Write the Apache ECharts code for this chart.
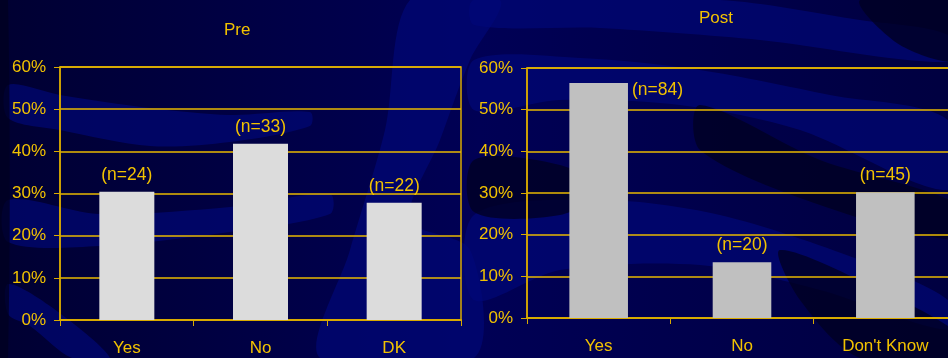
<!DOCTYPE html>
<html>
<head>
<meta charset="utf-8">
<script src="https://cdn.jsdelivr.net/npm/echarts@6/dist/echarts.min.js"></script>
<style>
  html, body { margin: 0; padding: 0; background: #000040; overflow: hidden; }
  /* the right chart runs past the window edge, so the canvas is a bit wider */
  #main { width: 960px; height: 358px; }
</style>
</head>
<body>
<div id="main"></div>
<script>
// data
var preCategories = ['Yes', 'No', 'DK'];
var prePercent = [30.4, 41.8, 27.8];
var preCounts = [24, 33, 22];

var postCategories = ['Yes', 'No', "Don't Know"];
var postPercent = [56.4, 13.4, 30.2];
var postCounts = [84, 20, 45];

var yTicks = [0, 10, 20, 30, 40, 50, 60];

var font = 'Liberation Sans, Arial, sans-serif';
var yellow = '#f2c200';
var axisColor = '#d8aa00';
var gridColor = '#e8b800';

var myChart = echarts.init(document.getElementById('main'));

function valueAxis(gridIndex) {
  return {
    type: 'value',
    gridIndex: gridIndex,
    min: yTicks[0],
    max: yTicks[yTicks.length - 1],
    interval: 10,
    axisLine: { show: true, lineStyle: { color: axisColor, width: 1.5 } },
    axisTick: { show: true, length: 6, lineStyle: { color: axisColor } },
    splitLine: { show: true, lineStyle: { color: gridColor, width: 1.5, opacity: 1 } },
    axisLabel: {
      color: yellow, fontFamily: font, fontSize: 17, margin: 14,
      formatter: function (v) { return v + '%'; }
    }
  };
}

function categoryAxis(gridIndex, data) {
  return {
    type: 'category',
    gridIndex: gridIndex,
    data: data,
    axisLine: { show: true, lineStyle: { color: axisColor, width: 2 } },
    axisTick: { show: true, length: 6, interval: 0, lineStyle: { color: axisColor } },
    splitLine: { show: false },
    axisLabel: { color: yellow, fontFamily: font, fontSize: 17, margin: 20, interval: 0 }
  };
}

// decorative waves of the slide background
var lightWaves = [
  [[8, 85], [60, 95], [150, 108], [230, 115], [310, 112], [310, 126], [230, 142], [150, 146], [60, 130], [8, 118]],
  [[8, 200], [100, 214], [230, 207], [330, 194], [330, 214], [230, 232], [100, 246], [8, 242]],
  [[8, 284], [50, 306], [110, 358], [72, 358], [30, 326], [8, 314]],
  [[410, 0], [500, 0], [470, 60], [440, 140], [410, 220], [470, 250], [474, 358], [320, 358], [350, 250], [385, 130]],
  [[474, 0], [720, 0], [860, 20], [948, 35], [948, 62], [760, 40], [600, 28], [474, 25]],
  [[474, 60], [580, 58], [700, 70], [830, 95], [948, 120], [948, 190], [800, 130], [680, 105], [560, 100], [474, 110]],
  [[474, 215], [600, 200], [720, 215], [860, 260], [948, 300], [948, 330], [820, 290], [700, 265], [560, 270], [474, 300]]
];
var darkWaves = [
  [[860, 0], [960, 0], [960, 60], [900, 45]],
  [[474, 160], [560, 165], [600, 190], [560, 215], [474, 212]],
  [[700, 105], [820, 160], [960, 205], [960, 240], [820, 205], [700, 150]],
  [[780, 250], [880, 290], [960, 335], [960, 358], [860, 358], [800, 300]],
  [[0, 0], [8, 0], [8, 358], [0, 358]]
];

var graphics = [{
  type: 'rect',
  z: -20,
  shape: { x: 0, y: 0, width: 960, height: 358 },
  style: {
    fill: new echarts.graphic.LinearGradient(0, 0, 1, 0, [
      { offset: 0, color: '#000032' },
      { offset: 0.5, color: '#000055' },
      { offset: 1, color: '#000040' }
    ])
  }
}];
lightWaves.forEach(function (pts) {
  graphics.push({
    type: 'polygon', z: -15,
    shape: { points: pts, smooth: 0.3 },
    style: { fill: '#00077a', opacity: 0.65 }
  });
});
darkWaves.forEach(function (pts) {
  graphics.push({
    type: 'polygon', z: -14,
    shape: { points: pts, smooth: 0.3 },
    style: { fill: '#000020', opacity: 0.75 }
  });
});

var option = {
  backgroundColor: '#000040',
  animation: false,
  graphic: graphics,
  title: [
    { text: 'Pre', left: 224, top: 22, padding: 0, textStyle: { color: yellow, fontFamily: font, fontSize: 17, fontWeight: 'normal' } },
    { text: 'Post', left: 699, top: 10, padding: 0, textStyle: { color: yellow, fontFamily: font, fontSize: 17, fontWeight: 'normal' } }
  ],
  grid: [
    { left: 60, top: 67, width: 401, bottom: 38, show: true, borderColor: axisColor, borderWidth: 1.5, backgroundColor: 'transparent' },
    { left: 527, top: 68, width: 430, bottom: 40, show: true, borderColor: axisColor, borderWidth: 1.5, backgroundColor: 'transparent' }
  ],
  xAxis: [categoryAxis(0, preCategories), categoryAxis(1, postCategories)],
  yAxis: [valueAxis(0), valueAxis(1)],
  series: [{
    name: 'Pre',
    type: 'bar',
    xAxisIndex: 0,
    yAxisIndex: 0,
    barWidth: 55,
    itemStyle: { color: '#dcdcdc' },
    label: {
      show: true, position: 'top', distance: 8,
      color: yellow, fontFamily: font, fontSize: 17.5,
      formatter: function (p) { return '(n=' + preCounts[p.dataIndex] + ')'; }
    },
    data: prePercent
  }, {
    name: 'Post',
    type: 'bar',
    xAxisIndex: 1,
    yAxisIndex: 1,
    barWidth: 58.6,
    itemStyle: { color: '#c0c0c0' },
    label: {
      show: true, position: 'top', distance: 8,
      color: yellow, fontFamily: font, fontSize: 17.5,
      formatter: function (p) { return '(n=' + postCounts[p.dataIndex] + ')'; }
    },
    data: postPercent.map(function (v, i) {
      if (i === 0) {
        // tallest bar: count sits beside the bar top
        return { value: v, label: { position: ['100%', 0], offset: [4, -2], align: 'left', verticalAlign: 'top' } };
      }
      return v;
    })
  }]
};

window.onresize = function () {
  myChart.resize();
};
myChart.setOption(option);
</script>
</body>
</html>
